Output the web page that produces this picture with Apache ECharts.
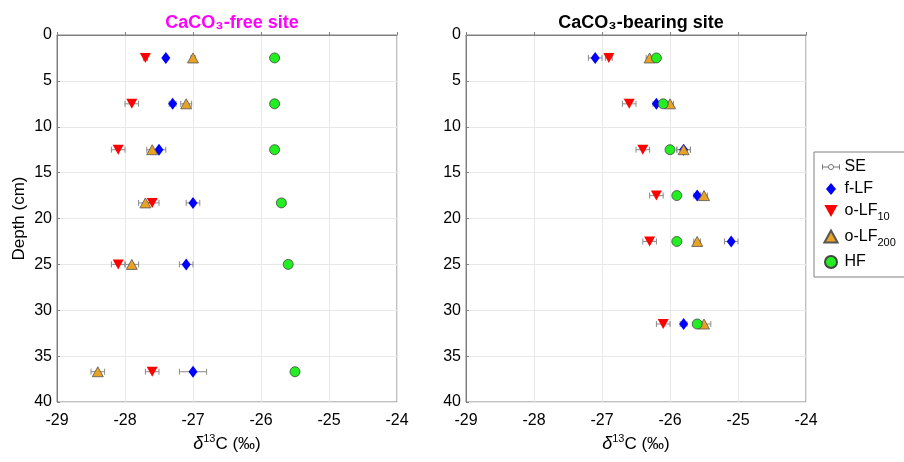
<!DOCTYPE html>
<html>
<head>
<meta charset="utf-8">
<script src="https://cdn.jsdelivr.net/npm/echarts@6/dist/echarts.min.js"></script>
<style>
html, body { margin: 0; padding: 0; background: #fff; }
#main { width: 904px; height: 462px; }
</style>
</head>
<body>
<div id="main"></div>
<script>
// depth of each sample (cm)
var depthFree = [2.5, 7.5, 12.5, 18.3, 25, 36.7]
var depthBear = [2.5, 7.5, 12.5, 17.5, 22.5, 31.5]

// CaCO3-free site, d13C values and SE
var freeF = [-27.4, -27.3, -27.5, -27.0, -27.1, -27.0]
var freeFse = [0.03, 0.05, 0.1, 0.1, 0.1, 0.2]
var freeO10 = [-27.7, -27.9, -28.1, -27.6, -28.1, -27.6]
var freeO10se = [0.03, 0.1, 0.1, 0.1, 0.1, 0.1]
var freeO200 = [-27.0, -27.1, -27.6, -27.7, -27.9, -28.4]
var freeO200se = [0.03, 0.08, 0.08, 0.1, 0.1, 0.1]
var freeHF = [-25.8, -25.8, -25.8, -25.7, -25.6, -25.5]

// CaCO3-bearing site
var bearF = [-27.1, -26.2, -25.8, -25.6, -25.1, -25.8]
var bearFse = [0.1, 0.05, 0.1, 0.05, 0.1, 0.05]
var bearO10 = [-26.9, -26.6, -26.4, -26.2, -26.3, -26.1]
var bearO10se = [0.05, 0.1, 0.1, 0.1, 0.1, 0.1]
var bearO200 = [-26.3, -26.0, -25.8, -25.5, -25.6, -25.5]
var bearO200se = [0.05, 0.05, 0.1, 0.05, 0.05, 0.1]
var bearHF = [-26.2, -26.1, -26.0, -25.9, -25.9, -25.6]

var font = 'Liberation Sans, Arial, sans-serif'
var gray = '#808080'

function pts(xs, ys) {
    return xs.map(function(v, i) { return [v, ys[i]] })
}
function bars(list, ys) {
    var out = []
    list.forEach(function(p) {
        p[0].forEach(function(v, i) {
            if (p[1][i] > 0) out.push([v, ys[i], p[1][i]])
        })
    })
    return out
}

function renderBar(params, api) {
    var x = api.value(0), y = api.value(1), e = api.value(2)
    var a = api.coord([x - e, y])
    var b = api.coord([x + e, y])
    var st = { stroke: '#8a8a8a', lineWidth: 1 }
    return {
        type: 'group',
        children: [
            { type: 'line', shape: { x1: a[0], y1: a[1], x2: b[0], y2: b[1] }, style: st },
            { type: 'line', shape: { x1: a[0], y1: a[1] - 3, x2: a[0], y2: a[1] + 3 }, style: st },
            { type: 'line', shape: { x1: b[0], y1: b[1] - 3, x2: b[0], y2: b[1] + 3 }, style: st }
        ]
    }
}

function xAxis(idx) {
    return {
        type: 'value', gridIndex: idx, min: -29, max: -24, interval: 1,
        name: '{d|δ}{sup|13}{n|C (‰)}', nameLocation: 'middle', nameGap: 28,
        nameTextStyle: {
            rich: {
                d: { fontFamily: font, fontSize: 18, fontStyle: 'italic', color: '#000' },
                sup: { fontFamily: font, fontSize: 11, color: '#000', padding: [0, 0, 10, 0] },
                n: { fontFamily: font, fontSize: 17, color: '#000' }
            }
        },
        axisLine: { show: true, lineStyle: { color: gray } },
        axisTick: { inside: true, length: 3, lineStyle: { color: gray } },
        axisLabel: { color: '#000', fontFamily: font, fontSize: 16, margin: 11 },
        splitLine: { show: true, lineStyle: { color: '#e8e8e8' } }
    }
}
function yAxis(idx, named) {
    return {
        type: 'value', gridIndex: idx, min: 0, max: 40, interval: 5, inverse: true,
        name: named ? 'Depth (cm)' : '', nameLocation: 'middle', nameGap: 29,
        nameTextStyle: { color: '#000', fontFamily: font, fontSize: 17 },
        axisLine: { show: true, lineStyle: { color: gray } },
        axisTick: { inside: true, length: 3, lineStyle: { color: gray } },
        axisLabel: { color: '#000', fontFamily: font, fontSize: 16, margin: 5 },
        splitLine: { show: true, lineStyle: { color: '#e8e8e8' } }
    }
}

var symF = { name: 'f-LF', symbol: 'diamond', symbolSize: [9, 12], itemStyle: { color: '#0000ff', opacity: 1 } }
var symO10 = { name: 'o-LF10', symbol: 'triangle', symbolRotate: 180, symbolSize: [11, 10], itemStyle: { color: '#ff0000', opacity: 1 } }
var symO200 = { name: 'o-LF200', symbol: 'triangle', symbolSize: [11, 10], itemStyle: { color: '#e8a325', borderColor: '#555', borderWidth: 0.8, opacity: 1 } }
var symHF = { name: 'HF', symbol: 'circle', symbolSize: 10, itemStyle: { color: '#22ee22', borderColor: '#444', borderWidth: 0.8, opacity: 1 } }

function scatter(base, idx, data) {
    return Object.assign({}, base, { type: 'scatter', xAxisIndex: idx, yAxisIndex: idx, data: data, z: 3 })
}

var series = [
    { name: 'SE', type: 'custom', xAxisIndex: 0, yAxisIndex: 0, renderItem: renderBar, z: 2,
      itemStyle: { color: '#8a8a8a' },
      data: bars([[freeF, freeFse], [freeO10, freeO10se], [freeO200, freeO200se]], depthFree) },
    { name: 'SE', type: 'custom', xAxisIndex: 1, yAxisIndex: 1, renderItem: renderBar, z: 2,
      itemStyle: { color: '#8a8a8a' },
      data: bars([[bearF, bearFse], [bearO10, bearO10se], [bearO200, bearO200se]], depthBear) },
    scatter(symF, 0, pts(freeF, depthFree)),
    scatter(symO10, 0, pts(freeO10, depthFree)),
    scatter(symO200, 0, pts(freeO200, depthFree)),
    scatter(symHF, 0, pts(freeHF, depthFree)),
    scatter(symF, 1, pts(bearF, depthBear)),
    scatter(symO10, 1, pts(bearO10, depthBear)),
    scatter(symO200, 1, pts(bearO200, depthBear)),
    scatter(symHF, 1, pts(bearHF, depthBear))
]

var chart = echarts.init(document.getElementById('main'))
chart.setOption({
    animation: false,
    title: [
        { text: 'CaCO₃-free site', left: 227, top: 9, textAlign: 'center',
          textStyle: { color: '#ff00ff', fontFamily: font, fontSize: 18, fontWeight: 'bold' } },
        { text: 'CaCO₃-bearing site', left: 636, top: 9, textAlign: 'center',
          textStyle: { color: '#000', fontFamily: font, fontSize: 18, fontWeight: 'bold' } }
    ],
    grid: [
        { left: 57, top: 35, width: 340, height: 367, show: true, borderColor: gray, borderWidth: 1 },
        { left: 466, top: 35, width: 340, height: 367, show: true, borderColor: gray, borderWidth: 1 }
    ],
    xAxis: [xAxis(0), xAxis(1)],
    yAxis: [yAxis(0, true), yAxis(1, false)],
    legend: {
        orient: 'vertical', left: 814, top: 152, width: 90,
        padding: [7, 14, 7, 6], itemGap: 6, itemWidth: 17, itemHeight: 12,
        borderColor: gray, borderWidth: 1, backgroundColor: '#fff',
        data: [
            { name: 'SE', icon: 'path://M0,6 L7,6 M13,6 L20,6 M0,3 L0,9 M20,3 L20,9 M7,6 a3,3 0 1,0 6,0 a3,3 0 1,0 -6,0',
              itemStyle: { color: 'none', borderColor: '#777', borderWidth: 1 } },
            { name: 'f-LF', icon: 'path://M5,0 L10,6 L5,12 L0,6 Z', itemStyle: { opacity: 1 } },
            { name: 'o-LF10', icon: 'path://M0,0 L11,0 L5.5,10 Z', itemStyle: { opacity: 1 } },
            { name: 'o-LF200', icon: 'path://M5.5,0 L11,10 L0,10 Z', itemStyle: { opacity: 1 } },
            { name: 'HF', icon: 'path://M0,5 a5,5 0 1,0 10,0 a5,5 0 1,0 -10,0', itemStyle: { opacity: 1 } }
        ],
        formatter: function(name) {
            if (name == 'o-LF10') return 'o-LF{sub|10}'
            if (name == 'o-LF200') return 'o-LF{sub|200}'
            return name
        },
        textStyle: {
            color: '#000', fontFamily: font, fontSize: 16,
            rich: { sub: { fontFamily: font, fontSize: 11, color: '#000', padding: [12, 0, 0, 0] } }
        }
    },
    series: series
})
</script>
</body>
</html>
